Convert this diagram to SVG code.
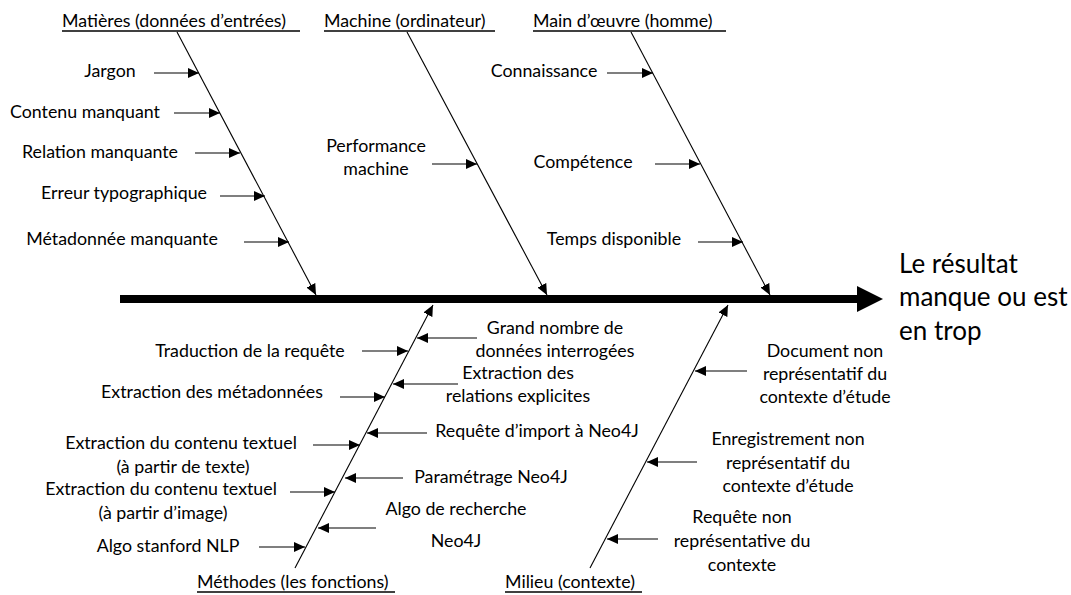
<svg xmlns="http://www.w3.org/2000/svg" width="1071" height="595" viewBox="0 0 1071 595">
<style>
text{font-family:Lato,"Liberation Sans",sans-serif;font-size:17.8px;fill:#000}
.m{text-anchor:middle}
.eff{font-size:26px}
.bone{stroke:#000;stroke-width:1.2;fill:none}
.sub{stroke:#000;stroke-width:1.1;fill:none;marker-end:url(#ah)}
.ul{stroke:#000;stroke-width:1.3}
</style>
<defs>
<marker id="ah" markerUnits="userSpaceOnUse" markerWidth="12" markerHeight="10" refX="11" refY="5" orient="auto">
<path d="M0,0 L11,5 L0,10 Z" fill="#000"/>
</marker>
</defs>
<rect width="1071" height="595" fill="#fff"/>
<g id="connectors">
<line x1="120" y1="299" x2="860" y2="299" stroke="#000" stroke-width="8"/>
<polygon points="857,286 883,299 857,312" fill="#000"/>
<line class="sub" x1="177" y1="32" x2="316" y2="295"/>
<line class="sub" x1="407" y1="32" x2="547" y2="295"/>
<line class="sub" x1="631" y1="32" x2="770" y2="295"/>
<line class="sub" x1="295" y1="568" x2="433" y2="305"/>
<line class="sub" x1="590" y1="568" x2="728" y2="305"/>
<line class="sub" x1="154" y1="73" x2="199" y2="73"/>
<line class="sub" x1="174" y1="113" x2="220" y2="113"/>
<line class="sub" x1="195" y1="153" x2="240" y2="153"/>
<line class="sub" x1="220" y1="196" x2="265" y2="196"/>
<line class="sub" x1="244" y1="242" x2="289" y2="242"/>
<line class="sub" x1="432" y1="164" x2="477" y2="164"/>
<line class="sub" x1="607" y1="73" x2="653" y2="73"/>
<line class="sub" x1="655" y1="164" x2="700" y2="164"/>
<line class="sub" x1="698" y1="242" x2="743" y2="242"/>
<line class="sub" x1="362" y1="351" x2="408" y2="351"/>
<line class="sub" x1="340" y1="397" x2="385" y2="397"/>
<line class="sub" x1="313" y1="445" x2="360" y2="445"/>
<line class="sub" x1="290" y1="492" x2="335" y2="492"/>
<line class="sub" x1="259" y1="547" x2="305" y2="547"/>
<line class="sub" x1="477" y1="338" x2="417" y2="338"/>
<line class="sub" x1="458" y1="384" x2="393" y2="384"/>
<line class="sub" x1="427" y1="433" x2="367" y2="433"/>
<line class="sub" x1="403" y1="478" x2="345" y2="478"/>
<line class="sub" x1="376" y1="528" x2="318" y2="528"/>
<line class="sub" x1="747" y1="371" x2="695" y2="371"/>
<line class="sub" x1="697" y1="462" x2="647" y2="462"/>
<line class="sub" x1="658" y1="539" x2="607" y2="539"/>
</g>
<g id="cat-matieres"><text x="62" y="27">Matières (données d’entrées)</text><line class="ul" x1="62" y1="31" x2="300" y2="31"/></g>
<g id="cat-machine"><text x="324" y="27">Machine (ordinateur)</text><line class="ul" x1="324" y1="31" x2="495" y2="31"/></g>
<g id="cat-main"><text x="533" y="27">Main d’œuvre (homme)</text><line class="ul" x1="533" y1="31" x2="726" y2="31"/></g>
<g id="cat-methodes"><text x="197" y="588">Méthodes (les fonctions)</text><line class="ul" x1="197" y1="592" x2="395" y2="592"/></g>
<g id="cat-milieu"><text x="505" y="588">Milieu (contexte)</text><line class="ul" x1="505" y1="592" x2="642" y2="592"/></g>
<g id="c-jargon"><text class="m" x="110" y="77">Jargon</text></g>
<g id="c-contenu"><text class="m" x="85" y="118">Contenu manquant</text></g>
<g id="c-relation"><text class="m" x="100" y="158">Relation manquante</text></g>
<g id="c-erreur"><text class="m" x="124" y="199">Erreur typographique</text></g>
<g id="c-meta"><text class="m" x="122" y="245">Métadonnée manquante</text></g>
<g id="c-perf"><text class="m" x="376" y="152">Performance</text><text class="m" x="376" y="175">machine</text></g>
<g id="c-conn"><text class="m" x="544" y="77">Connaissance</text></g>
<g id="c-comp"><text class="m" x="583" y="168">Compétence</text></g>
<g id="c-temps"><text class="m" x="614" y="245">Temps disponible</text></g>
<g id="c-trad"><text class="m" x="250" y="357">Traduction de la requête</text></g>
<g id="c-extmeta"><text class="m" x="212" y="398">Extraction des métadonnées</text></g>
<g id="c-exttxt"><text class="m" x="181" y="449">Extraction du contenu textuel</text><text class="m" x="183" y="473">(à partir de texte)</text></g>
<g id="c-extimg"><text class="m" x="161" y="495">Extraction du contenu textuel</text><text class="m" x="163" y="519">(à partir d’image)</text></g>
<g id="c-nlp"><text class="m" x="168" y="552">Algo stanford  NLP</text></g>
<g id="c-grand"><text class="m" x="555" y="334">Grand nombre de</text><text class="m" x="555" y="357">données interrogées</text></g>
<g id="c-extrel"><text class="m" x="518" y="379">Extraction des</text><text class="m" x="518" y="402">relations explicites</text></g>
<g id="c-import"><text class="m" x="537" y="437">Requête d’import à Neo4J</text></g>
<g id="c-param"><text class="m" x="491" y="483">Paramétrage Neo4J</text></g>
<g id="c-algo"><text class="m" x="456" y="515">Algo de recherche</text><text class="m" x="456" y="547">Neo4J</text></g>
<g id="c-doc"><text class="m" x="825" y="357">Document non</text><text class="m" x="825" y="380">représentatif du</text><text class="m" x="825" y="403">contexte d’étude</text></g>
<g id="c-enr"><text class="m" x="788" y="445">Enregistrement non</text><text class="m" x="788" y="469">représentatif du</text><text class="m" x="788" y="492">contexte d’étude</text></g>
<g id="c-req"><text class="m" x="742" y="523">Requête non</text><text class="m" x="742" y="547">représentative du</text><text class="m" x="742" y="571">contexte</text></g>
<g id="effect"><text class="eff" x="899" y="273">Le résultat</text><text class="eff" x="899" y="306">manque ou est</text><text class="eff" x="899" y="340">en trop</text></g>
</svg>
